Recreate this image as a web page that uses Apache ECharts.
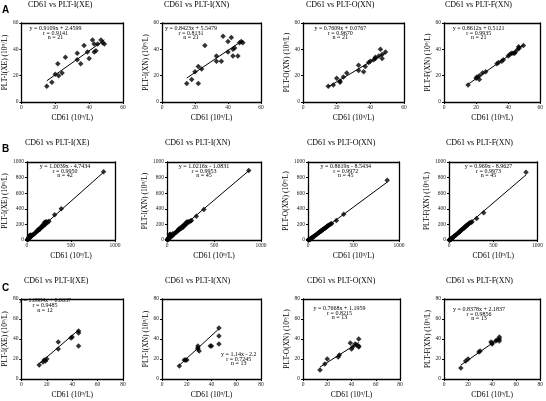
<!DOCTYPE html>
<html><head><meta charset="utf-8">
<script src="https://cdn.jsdelivr.net/npm/echarts/dist/echarts.min.js"></script>
<style>html,body{margin:0;padding:0;background:#fff}#c{width:546px;height:401px}</style>
</head><body><div id="c"></div>
<script>
// ---------- DATA ----------
const panelTitles = ['CD61 vs PLT-I(XE)', 'CD61 vs PLT-I(XN)', 'CD61 vs PLT-O(XN)', 'CD61 vs PLT-F(XN)'];
const yNames = ['PLT-I(XE) (10⁹/L)', 'PLT-I(XN) (10⁹/L)', 'PLT-O(XN) (10⁹/L)', 'PLT-F(XN) (10⁹/L)'];
const xName = 'CD61 (10⁹/L)';
const rowLetters = ['A', 'B', 'C'];

const eqText = [
  ['y = 0.9109x + 2.4599', 'y = 0.8423x + 5.5479', 'y = 0.7609x + 0.0767', 'y = 0.8612x + 0.5121'],
  ['y = 1.0039x - 4.7434', 'y = 1.0216x - 1.0831', 'y = 0.8619x - 8.5434', 'y = 0.969x - 8.9627'],
  ['y = 1.0884x + 0.0637', 'y = 1.14x - 2.2', 'y = 0.7668x + 1.1959', 'y = 0.8378x + 2.1837']
];
const slopes = [[0.9109, 0.8423, 0.7609, 0.8612], [1.0039, 1.0216, 0.8619, 0.969], [1.0884, 1.14, 0.7668, 0.8378]];
const intercepts = [[2.4599, 5.5479, 0.0767, 0.5121], [-4.7434, -1.0831, -8.5434, -8.9627], [0.0637, -2.2, 1.1959, 2.1837]];
const rText = [['0.9141', '0.8131', '0.9670', '0.9935'], ['0.9950', '0.9953', '0.9972', '0.9973'], ['0.9485', '0.7245', '0.8215', '0.9856']];
const nText = [['21', '21', '21', '21'], ['42', '45', '45', '45'], ['12', '13', '13', '13']];

// Row A
const a1X = [15, 18, 20, 21.5, 22, 24, 26, 33, 33, 35, 37, 39, 40, 42, 43, 43, 44, 45, 47, 48, 49];
const a1Y = [12, 15, 21, 29, 20, 22, 34, 37, 32, 29, 43, 38, 33, 47, 44, 38, 39, 44, 47, 45, 44];
const a2X = [15, 18, 20, 22, 22, 24, 26, 33, 33, 36, 37, 40, 40, 42, 43, 43, 44, 46, 47, 48, 49];
const a2Y = [14, 17, 23, 27, 14, 25, 43, 35, 31, 31, 50, 38, 46, 49, 40, 35, 41, 35, 45, 46, 45];
const a3X = [15, 18, 20, 22, 22, 24, 26, 33, 33, 36, 37, 39, 40, 42, 43, 43, 45, 46, 47, 47, 49];
const a3Y = [12, 13, 18, 15, 16, 19, 22, 28, 24, 23, 27, 30, 31, 32, 34, 33, 35, 40, 33, 36, 38];
const a4X = [15, 20, 20.5, 22, 22, 24, 26, 33, 34, 36, 37, 40, 41, 42, 43, 44, 44.5, 46, 46.5, 47, 49.5];
const a4Y = [13, 18, 19, 17, 20, 22, 23, 29, 30, 31, 32, 35, 36, 37, 37, 37, 38, 40, 42, 41, 43];

// Row B
const b1X = [5, 8, 12, 15, 18, 20, 25, 28, 32, 35, 40, 45, 50, 55, 60, 70, 80, 90, 100, 110, 120, 125, 130, 140, 145, 150, 160, 165, 170, 180, 185, 190, 200, 205, 210, 215, 225, 235, 250, 315, 390, 870];
const b1Y = [3, 6, 10, 14, 20, 35, 22, 50, 30, 62, 40, 65, 48, 55, 60, 68, 75, 85, 95, 110, 115, 130, 125, 140, 135, 150, 160, 170, 165, 175, 200, 185, 225, 195, 230, 210, 235, 225, 240, 325, 400, 875];
const bX = [3, 5, 8, 10, 12, 15, 18, 20, 25, 28, 32, 35, 40, 45, 50, 55, 60, 70, 80, 90, 100, 110, 120, 125, 130, 140, 145, 150, 160, 165, 170, 180, 185, 190, 200, 205, 210, 215, 225, 235, 250, 260, 312, 392, 870];
const b2Y = [2, 4, 10, 8, 15, 14, 22, 30, 25, 70, 32, 75, 45, 60, 55, 52, 80, 72, 82, 95, 100, 115, 125, 140, 130, 150, 145, 155, 170, 175, 160, 185, 200, 190, 215, 205, 230, 220, 235, 230, 245, 250, 305, 390, 890];
const b3Y = [0, 2, 3, 5, 6, 5, 8, 10, 12, 15, 18, 20, 25, 30, 33, 38, 42, 50, 60, 68, 78, 85, 95, 100, 105, 112, 118, 120, 130, 135, 140, 148, 150, 155, 165, 170, 175, 178, 185, 195, 205, 210, 250, 330, 765];
const b4Y = [0, 1, 2, 3, 4, 6, 8, 10, 14, 18, 20, 25, 28, 33, 38, 45, 50, 58, 68, 78, 88, 95, 105, 112, 118, 128, 132, 138, 148, 150, 155, 165, 172, 178, 185, 190, 195, 200, 210, 220, 225, 235, 275, 350, 870];

// Row C
const c1X = [14, 17, 18, 19, 20, 29, 29, 39, 40, 45, 45, 45];
const c1Y = [14, 17, 19, 18, 20, 37, 30, 41, 42, 48, 46, 33];
const c1OutX = [40, 43];
const c1OutY = [60, 60];
const c2X = [14, 18, 19, 20, 29, 29, 29, 30, 39, 40, 46, 46, 46];
const c2Y = [13, 19, 19, 19, 33, 31, 30, 28, 33, 33, 51, 43, 35];
const c2OutX = [39, 43];
const c2OutY = [72, 65];
const c3X = [14, 18, 20, 29, 30, 39, 40, 41, 43, 44, 46, 46, 46];
const c3Y = [9, 15, 20, 22, 24, 36, 30, 32, 35, 34, 40, 32, 33];
const c4X = [14, 18, 20, 29, 30, 39, 40, 40, 43, 44, 46, 46, 46];
const c4Y = [11, 18, 20, 27, 28, 37, 35, 36, 38, 39, 42, 38, 40];

// ---------- LAYOUT ----------
const rowTB = [[23, 102], [162, 240], [299, 379]];
const colLR = [
  [[21, 123], [162, 261], [303, 404], [444, 541]],
  [[26, 115], [167, 261], [308, 399], [449, 539]],
  [[21, 123], [162, 261], [303, 400], [444, 541]]
];
const titleCX = [[68, 204, 346, 485], [65, 205, 347, 486], [64, 205, 347, 486]];
const titleY = [6, 144, 282];
const eqPos = [
  [[55.5, 28.3], [191, 28.3], [340.3, 28.3], [478.7, 28.3]],
  [[65, 166.3], [204, 166.3], [345.8, 166.3], [488.5, 166.3]],
  [[45, 300.7], [238.8, 354.3], [339.5, 308.3], [479, 309.3]]
];
const letterY = [5, 144, 283];

const panelData = [
  [[a1X, a1Y], [a2X, a2Y], [a3X, a3Y], [a4X, a4Y]],
  [[b1X, b1Y], [bX, b2Y], [bX, b3Y], [bX, b4Y]],
  [[c1X, c1Y], [c2X, c2Y], [c3X, c3Y], [c4X, c4Y]]
];
const outliers = { 8: [c1OutX, c1OutY], 9: [c2OutX, c2OutY] };

const axisRanges = [
  { xmax: 60, xint: 20, ymax: 60, yint: 20 },
  { xmax: 1000, xint: 500, ymax: 1000, yint: 200 },
  { xmax: 80, xint: 20, ymax: 80, yint: 20 }
];

const SERIF = '"Liberation Serif", "Times New Roman", serif';
const grids = [], xAxes = [], yAxes = [], series = [], graphics = [];
const plainNum = v => String(v);
const mkLine = () => ({ show: true, onZero: false, lineStyle: { color: '#000', width: 1.3 } });

for (let r = 0; r < 3; r++) {
  graphics.push({
    type: 'text', left: 2, top: letterY[r],
    style: { text: rowLetters[r], font: 'bold 10px "Liberation Sans", Arial, sans-serif', fill: '#000' }
  });
  for (let c = 0; c < 4; c++) {
    const i = r * 4 + c;
    const [L, R] = colLR[r][c];
    const [T, B] = rowTB[r];
    grids.push({ left: L, top: T, width: R - L, height: B - T });
    const ar = axisRanges[r];
    xAxes.push({
      type: 'value', gridIndex: i, position: 'bottom', min: 0, max: ar.xmax, interval: ar.xint,
      name: xName, nameLocation: 'middle', nameGap: 12,
      nameTextStyle: { fontFamily: SERIF, fontSize: 7.5, color: '#000' },
      axisLine: mkLine(),
      axisTick: { show: true, length: 2, inside: false, lineStyle: { color: '#000' } },
      axisLabel: { fontFamily: SERIF, fontSize: 5.5, color: '#222', margin: 3, formatter: plainNum },
      splitLine: { show: false }
    });
    yAxes.push({
      type: 'value', gridIndex: i, position: 'left', min: 0, max: ar.ymax, interval: ar.yint,
      name: yNames[c], nameLocation: 'middle', nameGap: r === 1 ? 15 : 12, nameRotate: 90,
      nameTextStyle: { fontFamily: SERIF, fontSize: 7.5, color: '#000' },
      axisLine: mkLine(),
      axisTick: { show: true, length: 2, inside: false, lineStyle: { color: '#000' } },
      axisLabel: { fontFamily: SERIF, fontSize: 5.5, color: '#222', margin: 3, formatter: plainNum },
      splitLine: { show: false }
    });
  }
}
// top and right frame axes
for (let i = 0; i < 12; i++) {
  const ar = axisRanges[Math.floor(i / 4)];
  xAxes.push({
    type: 'value', gridIndex: i, position: 'top', min: 0, max: ar.xmax, interval: ar.xint,
    axisLine: mkLine(), axisTick: { show: false }, axisLabel: { show: false }, splitLine: { show: false }
  });
  yAxes.push({
    type: 'value', gridIndex: i, position: 'right', min: 0, max: ar.ymax, interval: ar.yint,
    axisLine: mkLine(), axisTick: { show: false }, axisLabel: { show: false }, splitLine: { show: false }
  });
}

for (let r = 0; r < 3; r++) {
  for (let c = 0; c < 4; c++) {
    const i = r * 4 + c;
    const [xs, ys] = panelData[r][c];
    const pts = xs.map((x, k) => [x, ys[k]]);
    series.push({
      type: 'scatter', xAxisIndex: i, yAxisIndex: i, data: pts,
      symbol: 'diamond', symbolSize: 5.5, itemStyle: { color: '#000' }, silent: true
    });
    if (outliers[i]) {
      const [ox, oy] = outliers[i];
      series.push({
        type: 'scatter', xAxisIndex: i, yAxisIndex: i, data: ox.map((x, k) => [x, oy[k]]),
        symbol: 'emptyCircle', symbolSize: 4,
        itemStyle: { color: '#fff', borderColor: '#666', borderWidth: 0.8 }, silent: true
      });
    }
    const xmin = Math.min(...xs), xmax = Math.max(...xs);
    const s = slopes[r][c], b = intercepts[r][c];
    series.push({
      type: 'line', xAxisIndex: i, yAxisIndex: i,
      data: [[xmin, s * xmin + b], [xmax, s * xmax + b]],
      showSymbol: false, lineStyle: { color: '#000', width: 1 }, silent: true, z: 3
    });
    graphics.push({
      type: 'text', left: titleCX[r][c] - 40, top: titleY[r] - 5,
      style: { text: panelTitles[c], font: '8px ' + SERIF, fill: '#000', width: 80, align: 'center' }
    });
    const [ex, ey] = eqPos[r][c];
    const lines = [eqText[r][c], 'r = ' + rText[r][c], 'n = ' + nText[r][c]];
    lines.forEach((t, k) => {
      graphics.push({
        type: 'text', x: ex, y: ey + k * 4.8, z: 101,
        style: { text: t, font: '6px ' + SERIF, fill: '#000', textAlign: 'center', textVerticalAlign: 'middle' }
      });
    });
  }
}

const chart = echarts.init(document.getElementById('c'), null, { renderer: 'canvas' });
chart.setOption({
  animation: false,
  backgroundColor: '#fff',
  grid: grids, xAxis: xAxes, yAxis: yAxes, series: series, graphic: graphics
});
</script></body></html>
